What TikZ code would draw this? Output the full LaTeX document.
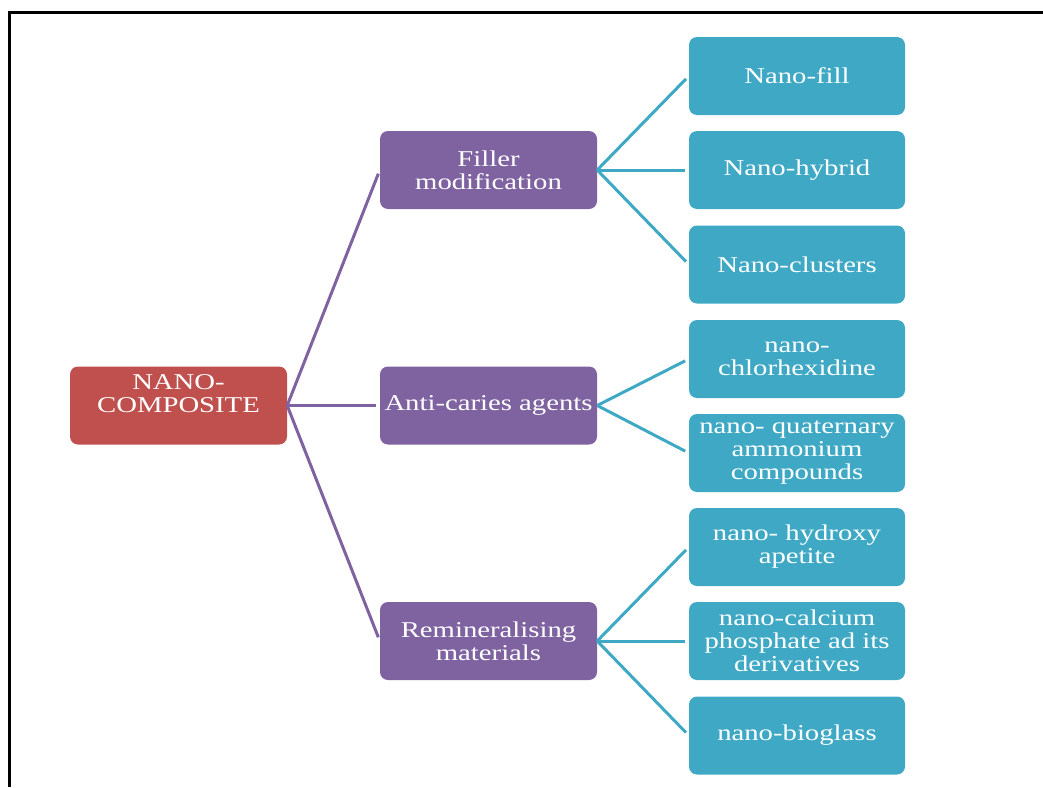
\documentclass[tikz,border=0pt]{standalone}
\usepackage{fontspec}
\newfontfamily\boxfont[FakeStretch=1.27]{Liberation Serif}
\definecolor{rootred}{HTML}{C0504D}
\definecolor{midpurple}{HTML}{7F63A1}
\definecolor{leafcyan}{HTML}{3FA9C5}
\tikzset{
  base/.style={rounded corners=8pt, minimum width=217pt, minimum height=78pt, inner sep=0pt,
    align=center, text=white, font=\boxfont\fontsize{22.6}{23}\selectfont},
  rootbox/.style={base, fill=rootred},
  midbox/.style={base, fill=midpurple},
  leafbox/.style={base, fill=leafcyan, minimum width=216pt},
  plink/.style={draw=midpurple, line width=3pt, shorten >=4pt},
  clink/.style={draw=leafcyan, line width=3pt, shorten >=4pt},
}
\begin{document}
\begin{tikzpicture}[x=1pt,y=-1pt]
\useasboundingbox (0,0) rectangle (1043,787);
\draw[line width=3pt] (9.5,787) -- (9.5,12.5) -- (1043,12.5);

\node[rootbox] (root) at (178.5,405.5) {NANO-\\COMPOSITE\\\mbox{}};

\node[midbox] (filler) at (488.5,170) {Filler\\modification};
\node[midbox] (anti) at (488.5,405.5) {Anti-caries agents};
\node[midbox] (remin) at (488.5,641) {Remineralising\\materials};

\node[leafbox] (fill) at (797,76) {Nano-fill};
\node[leafbox] (hybrid) at (797,170) {Nano-hybrid};
\node[leafbox] (clusters) at (797,264.5) {Nano-clusters};
\node[leafbox] (chlor) at (797,359) {nano-\\chlorhexidine};
\node[leafbox] (quat) at (797,453) {nano- quaternary\\ammonium\\compounds};
\node[leafbox] (hydroxy) at (797,547) {nano- hydroxy\\apetite};
\node[leafbox] (calcium) at (797,641) {nano-calcium\\phosphate ad its\\derivatives};
\node[leafbox] (bioglass) at (797,735.5) {nano-bioglass};

\foreach \m in {filler,anti,remin} \draw[plink] (root.east) -- (\m.west);
\foreach \l in {fill,hybrid,clusters} \draw[clink] (filler.east) -- (\l.west);
\foreach \l in {chlor,quat} \draw[clink] (anti.east) -- (\l.west);
\foreach \l in {hydroxy,calcium,bioglass} \draw[clink] (remin.east) -- (\l.west);
\end{tikzpicture}
\end{document}
